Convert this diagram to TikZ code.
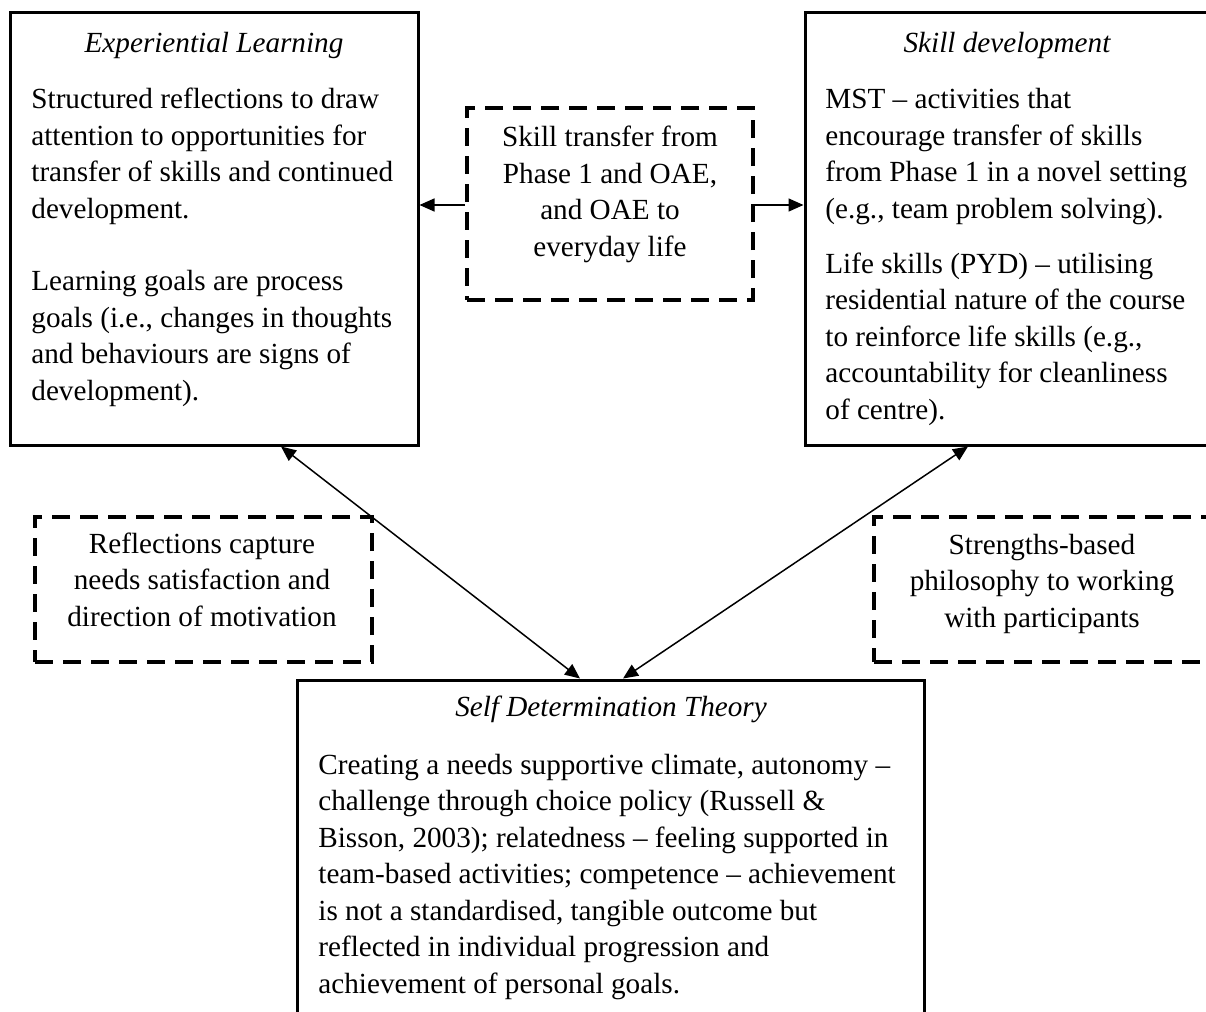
\documentclass[tikz,border=0pt]{standalone}
\usepackage{fontspec}
\setmainfont{Liberation Serif}
\usetikzlibrary{fit,arrows.meta}

\tikzset{
  solidbox/.style={draw, line width=1.5pt, inner sep=0pt},
  dashbox/.style={draw, line width=1.9pt, dash pattern=on 9pt off 5pt, inner sep=0pt},
  txt/.style={inner sep=0pt, font=\fontsize{14.6}{18.25}\selectfont},
  title/.style={txt, anchor=base, font=\fontsize{14.6}{18.25}\selectfont\itshape},
  % multi-line blocks are placed by the baseline of their last line
  body/.style={txt, anchor=base west, align=left},
  ctext/.style={txt, anchor=base, align=center},
  link/.style={line width=0.75pt, -{Triangle[length=7.5pt,width=6.5pt]}},
  duallink/.style={line width=0.75pt, {Triangle[length=7.5pt,width=6.5pt]}-{Triangle[length=7.5pt,width=6.5pt]}}
}

\begin{document}
\begin{tikzpicture}[x=0.5pt,y=-0.5pt]
\useasboundingbox (0,0) rectangle (1206,1012);
\clip (0,0) rectangle (1206,1012);

% frames
\node[solidbox, fit={(10,12) (418,445)}] (el) {};
\node[solidbox, fit={(805,12) (1209,445)}] (sd) {};
\node[solidbox, fit={(297,680) (924,1030)}] (sdt) {};
\node[dashbox, fit={(467,108) (753,300)}] (mid) {};
\node[dashbox, fit={(35,517) (372,662)}] (refl) {};
\node[dashbox, fit={(874,517) (1212,662)}] (str) {};

% Experiential Learning
\node[title] (elt) at (214,52) {Experiential Learning};
\node[body] (elb1) at (31,218) {Structured reflections to draw\\attention to opportunities for\\transfer of skills and continued\\development.};
\node[body] (elb2) at (31,400) {Learning goals are process\\goals (i.e., changes in thoughts\\and behaviours are signs of\\development).};

% Skill development
\node[title] (sdtt) at (1007,52) {Skill development};
\node[body] (sdb1) at (825,218) {MST – activities that\\encourage transfer of skills\\from Phase 1 in a novel setting\\(e.g., team problem solving).};
\node[body] (sdb2) at (825,419) {Life skills (PYD) – utilising\\residential nature of the course\\to reinforce life skills (e.g.,\\accountability for cleanliness\\of centre).};

% skill transfer
\node[ctext] (midt) at (610,256) {Skill transfer from\\Phase 1 and OAE,\\and OAE to\\everyday life};

% side notes
\node[ctext] (reflt) at (202,626) {Reflections capture\\needs satisfaction and\\direction of motivation};
\node[ctext] (strt) at (1042,627) {Strengths-based\\philosophy to working\\with participants};

% Self Determination Theory
\node[title] (sdtitle) at (611,716) {Self Determination Theory};
\node[body] (sdtb) at (318,993) {Creating a needs supportive climate, autonomy –\\challenge through choice policy (Russell \&\\Bisson, 2003); relatedness – feeling supported in\\team-based activities; competence – achievement\\is not a standardised, tangible outcome but\\reflected in individual progression and\\achievement of personal goals.};

% connectors
\coordinate (xa) at (281,0);
\coordinate (xb) at (580,0);
\coordinate (xc) at (623,0);
\coordinate (xd) at (968,0);
\draw[link] ([yshift=-0.5pt]mid.west) -- ([yshift=-0.5pt]mid.west -| el.east);
\draw[link] ([yshift=-0.5pt]mid.east) -- ([yshift=-0.5pt]mid.east -| sd.west);
\draw[duallink] (el.south -| xa) -- (sdt.north -| xb);
\draw[duallink] (sdt.north -| xc) -- (sd.south -| xd);
\end{tikzpicture}
\end{document}
